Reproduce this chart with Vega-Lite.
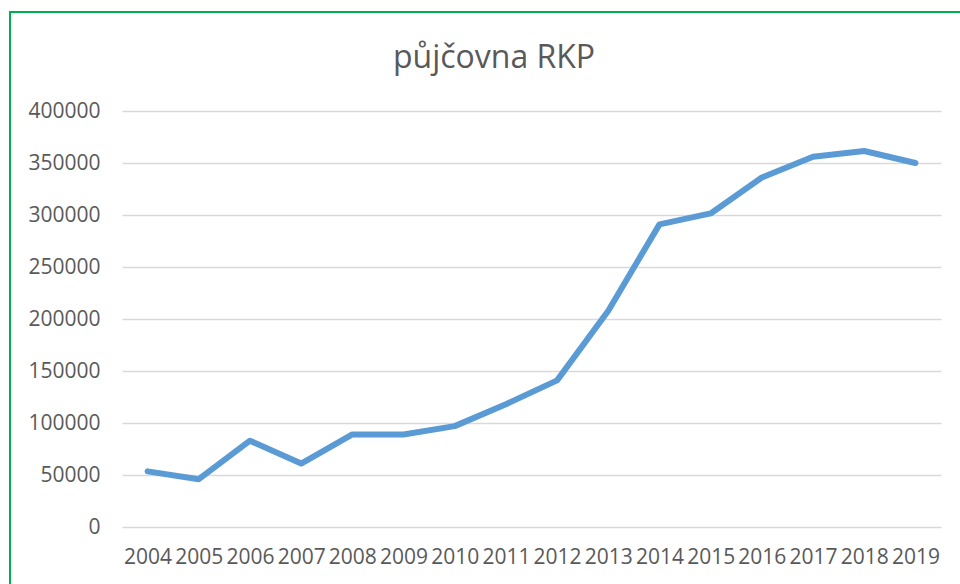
{
  "$schema": "https://vega.github.io/schema/vega-lite/v6.json",
  "autosize": "none",
  "padding": {"left": 10, "top": 12, "right": 0, "bottom": 0},
  "width": 968,
  "height": 600,
  "background": "white",
  "title": {
    "text": "půjčovna RKP",
    "font": "Open Sans",
    "fontSize": 32,
    "fontWeight": "normal",
    "color": "#595959",
    "anchor": "middle",
    "frame": "group",
    "baseline": "alphabetic",
    "offset": -88
  },
  "data": {
    "values": [
      {"year": "2004", "value": 53500},
      {"year": "2005", "value": 46000},
      {"year": "2006", "value": 83000},
      {"year": "2007", "value": 61000},
      {"year": "2008", "value": 89000},
      {"year": "2009", "value": 89000},
      {"year": "2010", "value": 97000},
      {"year": "2011", "value": 118000},
      {"year": "2012", "value": 141000},
      {"year": "2013", "value": 208000},
      {"year": "2014", "value": 291000},
      {"year": "2015", "value": 301500},
      {"year": "2016", "value": 336000},
      {"year": "2017", "value": 356000},
      {"year": "2018", "value": 361500},
      {"year": "2019", "value": 350000}
    ]
  },
  "mark": {
    "type": "line",
    "color": "#5b9bd5",
    "strokeWidth": 6,
    "strokeCap": "round",
    "strokeJoin": "round"
  },
  "encoding": {
    "x": {
      "field": "year",
      "type": "ordinal",
      "scale": {"type": "point", "range": [112, 931]},
      "axis": {
        "title": null,
        "domain": false,
        "ticks": false,
        "tickSize": 0,
        "grid": false,
        "labelAngle": 0,
        "labelFont": "Open Sans",
        "labelFontSize": 21,
        "labelColor": "#595959",
        "labelPadding": 19,
        "labelOverlap": false,
        "offset": -85
      }
    },
    "y": {
      "field": "value",
      "type": "quantitative",
      "scale": {"domain": [0, 400000], "range": [515, 99], "nice": false, "zero": true},
      "axis": {
        "title": null,
        "domain": false,
        "ticks": false,
        "tickSize": 0,
        "values": [0, 50000, 100000, 150000, 200000, 250000, 300000, 350000, 400000],
        "format": "d",
        "labelFont": "Open Sans",
        "labelFontSize": 21,
        "labelColor": "#595959",
        "labelPadding": 22,
        "gridColor": "#d9d9d9",
        "gridWidth": 1.5,
        "offset": -112
      }
    }
  },
  "config": {
    "view": {"stroke": "#00b050", "strokeWidth": 2}
  }
}
